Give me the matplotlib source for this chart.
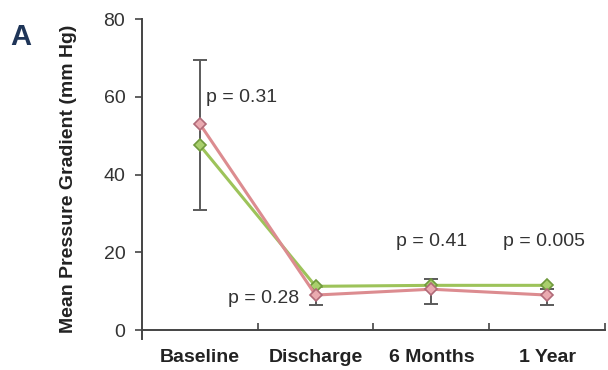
import matplotlib
matplotlib.use("Agg")
import matplotlib.pyplot as plt

plt.rcParams['font.family'] = ['Liberation Sans', 'DejaVu Sans']

# data
timepoints = ['Baseline', 'Discharge', '6 Months', '1 Year']
red_mean = [53, 9, 10.5, 9]
green_mean = [47.5, 11.25, 11.5, 11.5]
err_low = [31, 6.5, 6.75, 6.5]
err_high = [69.5, 11, 13.25, 10.5]
p_labels = ['p = 0.31', 'p = 0.28', 'p = 0.41', 'p = 0.005']
p_y = [59.75, 8, 22.75, 22.75]

x = list(range(len(timepoints)))

fig = plt.figure(figsize=(6.08, 3.70), dpi=100)
ax = fig.add_axes([0.2336, 0.0838, 0.7614, 0.8648])

# error bars (drawn underneath the markers)
yerr = [[m - lo for m, lo in zip(red_mean, err_low)],
        [hi - m for m, hi in zip(red_mean, err_high)]]
ax.errorbar(x, red_mean, yerr=yerr, fmt='none', ecolor='#5a5a5a',
            elinewidth=1.4, capsize=5, capthick=1.4, zorder=2)

ax.plot(x, green_mean, color='#9dc35a', lw=2.2, marker='D', ms=6.5,
        mfc='#a9cf6c', mec='#6f9a3c', mew=1.2, zorder=3)
ax.plot(x, red_mean, color='#dc8c90', lw=2.2, marker='D', ms=6.5,
        mfc='#eaaab0', mec='#b06a78', mew=1.2, zorder=4)

# p-value annotations
txt = dict(fontsize=14, va='center', color='#333333')
ax.text(0.05, p_y[0], p_labels[0], ha='left', **txt)
ax.text(0.86, p_y[1], p_labels[1], ha='right', **txt)
ax.text(2.0, p_y[2], p_labels[2], ha='center', **txt)
ax.text(2.97, p_y[3], p_labels[3], ha='center', **txt)

ax.set_xlim(-0.5, 3.5)
ax.set_ylim(-2.3, 80)
ax.spines['top'].set_visible(False)
ax.spines['right'].set_visible(False)
ax.spines['bottom'].set_position(('data', 0))
for s in ('left', 'bottom'):
    ax.spines[s].set_color('#444444')
    ax.spines[s].set_linewidth(1.4)

ax.set_yticks([0, 20, 40, 60, 80])
ax.tick_params(axis='y', direction='out', length=5, width=1.2, color='#444444',
               labelsize=14, pad=7, labelcolor='#333333')

ax.set_xticks(x)
ax.set_xticklabels(timepoints, fontsize=14, fontweight='bold', color='#222222')
ax.set_xticks([0.5, 1.5, 2.5, 3.5], minor=True)
ax.tick_params(axis='x', which='major', length=0, pad=14)
ax.tick_params(axis='x', which='minor', direction='in', length=5, width=1.2, color='#444444')

ax.set_ylabel('Mean Pressure Gradient (mm Hg)', fontsize=14, fontweight='bold',
              color='#222222')
ax.yaxis.set_label_coords(-0.14, 0.5)

fig.text(0.017, 0.878, 'A', fontsize=21, fontweight='bold', color='#1f3558')

fig.savefig('out.png', dpi=100)
